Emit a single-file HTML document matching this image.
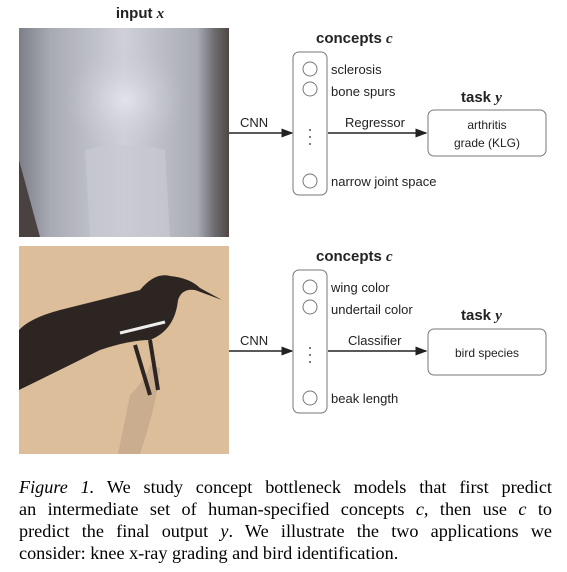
<!DOCTYPE html>
<html><head><style>
body{margin:0;width:567px;height:572px;background:#fff;overflow:hidden;position:relative;font-family:"Liberation Sans",sans-serif}
.cap{position:absolute;left:19px;top:476px;width:533px;font-family:"Liberation Serif",serif;font-size:18.2px;line-height:22px;color:#000}
.cap .l{display:block;text-align:justify;text-align-last:justify}
</style></head><body>
<svg width="567" height="470" style="position:absolute;left:0;top:0" font-family="Liberation Sans, sans-serif">
<defs>
<linearGradient id="k" x1="0" x2="1"><stop offset="0" stop-color="#7d7f88"/><stop offset="0.15" stop-color="#a8aab4"/><stop offset="0.5" stop-color="#cfd0d9"/><stop offset="0.85" stop-color="#a9abb4"/><stop offset="0.93" stop-color="#6d6c70"/><stop offset="1" stop-color="#4e4743"/></linearGradient>
<radialGradient id="g"><stop offset="0" stop-color="#e2e3ea"/><stop offset="1" stop-color="#c4c5cf" stop-opacity="0"/></radialGradient>
<marker id="a" markerWidth="8" markerHeight="6" refX="7" refY="3" orient="auto"><path d="M0,0L8,3L0,6z" fill="#222"/></marker>
</defs>
<text x="140" y="18" font-size="15" font-weight="bold" text-anchor="middle" fill="#222">input <tspan font-family="Liberation Serif" font-style="italic">x</tspan></text>
<rect x="19" y="28" width="210" height="209" fill="url(#k)"/>
<ellipse cx="125" cy="100" rx="60" ry="55" fill="url(#g)"/>
<path d="M85,150 Q120,140 165,150 L170,237 L90,237Z" fill="#c8c9d2" opacity="0.7"/>
<path d="M19,160 L40,237 L19,237Z" fill="#4a4240"/>
<rect x="19" y="246" width="210" height="208" fill="#dcbf9a"/>
<path d="M130,395 Q145,380 150,365 L160,368 Q158,400 140,454 L118,454Z" fill="#c9ad8e"/>
<path d="M19,345 L19,390 Q60,370 100,350 Q130,340 150,340 Q175,330 178,300 Q182,288 195,290 L222,300 L200,288 Q190,278 170,276 Q155,272 140,290 Q100,300 60,310 Q30,318 19,330Z" fill="#2c2522"/>
<path d="M135,345 L150,395 M150,340 L158,390" stroke="#2c2522" stroke-width="4"/>
<path d="M120,333 L165,322" stroke="#eee" stroke-width="3"/>
<g fill="none" stroke="#222" stroke-width="1.5">
<line x1="229" y1="133" x2="292" y2="133" marker-end="url(#a)"/>
<line x1="328" y1="133" x2="426" y2="133" marker-end="url(#a)"/>
<line x1="229" y1="351" x2="292" y2="351" marker-end="url(#a)"/>
<line x1="328" y1="351" x2="426" y2="351" marker-end="url(#a)"/>
</g>
<g fill="#fff" stroke="#777" stroke-width="1">
<rect x="293" y="52" width="34" height="143" rx="6"/>
<rect x="293" y="270" width="34" height="143" rx="6"/>
<rect x="428" y="110" width="118" height="46" rx="6"/>
<rect x="428" y="329" width="118" height="46" rx="6"/>
<circle cx="310" cy="69" r="7"/><circle cx="310" cy="89" r="7"/><circle cx="310" cy="181" r="7"/>
<circle cx="310" cy="287" r="7"/><circle cx="310" cy="307" r="7"/><circle cx="310" cy="398" r="7"/>
</g>
<g fill="#555"><circle cx="310" cy="130" r="1"/><circle cx="310" cy="137" r="1"/><circle cx="310" cy="144" r="1"/>
<circle cx="310" cy="348" r="1"/><circle cx="310" cy="355" r="1"/><circle cx="310" cy="362" r="1"/></g>
<g font-size="13" fill="#222">
<text x="331" y="74">sclerosis</text><text x="331" y="96">bone spurs</text><text x="331" y="186">narrow joint space</text>
<text x="331" y="292">wing color</text><text x="331" y="314">undertail color</text><text x="331" y="403">beak length</text>
<text x="240" y="127">CNN</text><text x="345" y="127">Regressor</text>
<text x="240" y="345">CNN</text><text x="348" y="345">Classifier</text>
</g>
<g font-size="12" fill="#222" text-anchor="middle">
<text x="487" y="129">arthritis</text><text x="487" y="147">grade (KLG)</text>
<text x="487" y="357">bird species</text>
</g>
<g font-size="15" font-weight="bold" fill="#222">
<text x="316" y="43">concepts <tspan font-family="Liberation Serif" font-style="italic">c</tspan></text>
<text x="461" y="102">task <tspan font-family="Liberation Serif" font-style="italic">y</tspan></text>
<text x="316" y="261">concepts <tspan font-family="Liberation Serif" font-style="italic">c</tspan></text>
<text x="461" y="320">task <tspan font-family="Liberation Serif" font-style="italic">y</tspan></text>
</g>
</svg>
<div class="cap">
<span class="l"><i>Figure 1.</i> We study concept bottleneck models that first predict</span>
<span class="l">an intermediate set of human-specified concepts <i>c</i>, then use <i>c</i> to</span>
<span class="l">predict the final output <i>y</i>. We illustrate the two applications we</span>
<span style="display:block">consider: knee x-ray grading and bird identification.</span>
</div>
</body></html>
